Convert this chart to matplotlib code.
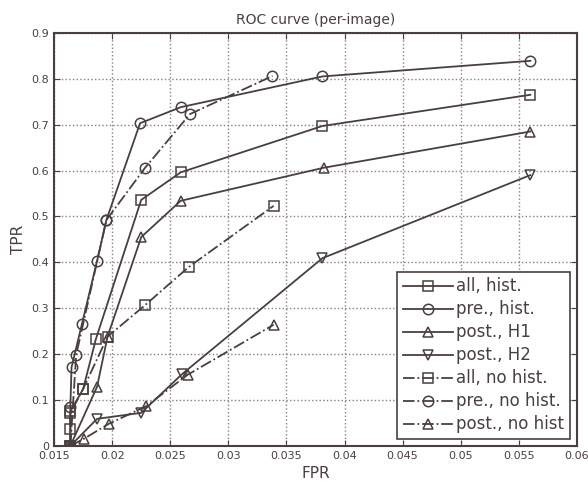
import numpy as np
import matplotlib.pyplot as plt

# ROC points (FPR, TPR)
all_hist_fpr = [0.0164, 0.0164, 0.0164, 0.0175, 0.0186, 0.0225, 0.0259, 0.0381, 0.0560]
all_hist_tpr = [0.000, 0.037, 0.075, 0.124, 0.233, 0.536, 0.596, 0.697, 0.765]

pre_hist_fpr = [0.0164, 0.0164, 0.0165, 0.0174, 0.0187, 0.0195, 0.0224, 0.0259, 0.0381, 0.0560]
pre_hist_tpr = [0.000, 0.085, 0.171, 0.266, 0.403, 0.492, 0.703, 0.738, 0.805, 0.839]

post_h1_fpr = [0.0164, 0.0187, 0.0196, 0.0225, 0.0259, 0.0382, 0.0560]
post_h1_tpr = [0.000, 0.129, 0.238, 0.455, 0.534, 0.606, 0.685]

post_h2_fpr = [0.0164, 0.0187, 0.0225, 0.0260, 0.0381, 0.0560]
post_h2_tpr = [0.000, 0.059, 0.072, 0.156, 0.409, 0.590]

all_nohist_fpr = [0.0164, 0.0164, 0.0175, 0.0196, 0.0228, 0.0266, 0.0339]
all_nohist_tpr = [0.000, 0.072, 0.124, 0.238, 0.306, 0.390, 0.523]

pre_nohist_fpr = [0.0164, 0.0169, 0.0195, 0.0228, 0.0267, 0.0338]
pre_nohist_tpr = [0.000, 0.198, 0.492, 0.605, 0.723, 0.806]

post_nohist_fpr = [0.0164, 0.0176, 0.0197, 0.0229, 0.0265, 0.0339]
post_nohist_tpr = [0.000, 0.016, 0.048, 0.086, 0.155, 0.264]

xticks = [0.015, 0.02, 0.025, 0.03, 0.035, 0.04, 0.045, 0.05, 0.055, 0.06]
xticklabels = ['0.015', '0.02', '0.025', '0.03', '0.035', '0.04', '0.045', '0.05', '0.055', '0.06']
yticks = [0, 0.1, 0.2, 0.3, 0.4, 0.5, 0.6, 0.7, 0.8, 0.9]
yticklabels = ['0', '0.1', '0.2', '0.3', '0.4', '0.5', '0.6', '0.7', '0.8', '0.9']

col = '#4a3f3f'
plt.rcParams['font.family'] = ['DejaVu Sans']

fig = plt.figure(figsize=(5.88, 4.9), dpi=100)
ax = fig.add_axes([0.092, 0.09, 0.889, 0.843])

kw = dict(color=col, lw=1.3, ms=7.5, mfc='none', mew=1.1)
ax.plot(all_hist_fpr, all_hist_tpr, '-', marker='s', label='all, hist.', **kw)
ax.plot(pre_hist_fpr, pre_hist_tpr, '-', marker='o', label='pre., hist.', **kw)
ax.plot(post_h1_fpr, post_h1_tpr, '-', marker='^', label='post., H1', **kw)
ax.plot(post_h2_fpr, post_h2_tpr, '-', marker='v', label='post., H2', **kw)
ax.plot(all_nohist_fpr, all_nohist_tpr, '-.', marker='s', label='all, no hist.', **kw)
ax.plot(pre_nohist_fpr, pre_nohist_tpr, '-.', marker='o', label='pre., no hist.', **kw)
ax.plot(post_nohist_fpr, post_nohist_tpr, '-.', marker='^', label='post., no hist', **kw)

ax.set_xlim(0.015, 0.06)
ax.set_ylim(0, 0.9)
ax.set_xticks(xticks)
ax.set_xticklabels(xticklabels)
ax.set_yticks(yticks)
ax.set_yticklabels(yticklabels)
ax.tick_params(direction='in', top=True, right=True, labelsize=8, colors=col, length=4)
ax.grid(True, linestyle=':', color='#8a7f7f', lw=1.0)
for s in ax.spines.values():
    s.set_color(col)
    s.set_linewidth(1.5)

ax.set_title('ROC curve (per-image)', fontsize=10, color=col)
ax.set_xlabel('FPR', fontsize=11, color=col)
ax.set_ylabel('TPR', fontsize=11, color=col)

leg = ax.legend(loc='lower right', fontsize=12, fancybox=False, framealpha=1,
                edgecolor=col, handlelength=3.0, borderpad=0.35, labelspacing=0.3,
                handletextpad=0.2, borderaxespad=0.4)
leg.get_frame().set_linewidth(1.2)
for t in leg.get_texts():
    t.set_color(col)

fig.savefig('out.png', dpi=100)
